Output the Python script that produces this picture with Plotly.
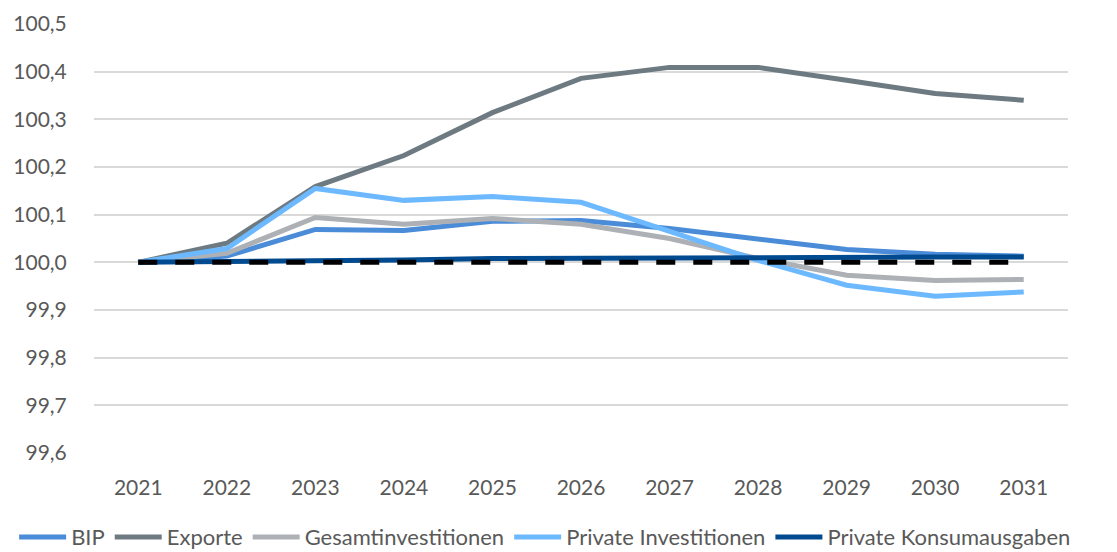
import plotly.graph_objects as go

years = ["2021", "2022", "2023", "2024", "2025", "2026", "2027", "2028", "2029", "2030", "2031"]

bip = [100.0, 100.013, 100.069, 100.067, 100.086, 100.088, 100.071, 100.050, 100.027, 100.017, 100.013]
exporte = [100.0, 100.040, 100.159, 100.224, 100.314, 100.386, 100.409, 100.409, 100.382, 100.354, 100.340]
gesamtinvestitionen = [100.0, 100.019, 100.094, 100.080, 100.092, 100.080, 100.050, 100.008, 99.973, 99.962, 99.964]
private_investitionen = [100.0, 100.029, 100.155, 100.130, 100.138, 100.126, 100.065, 100.004, 99.952, 99.929, 99.938]
private_konsum = [100.0, 100.001, 100.003, 100.005, 100.008, 100.009, 100.010, 100.011, 100.011, 100.011, 100.011]
basislinie = [100.0] * len(years)

series = [
    ("BIP", bip, "#4A8CD8"),
    ("Exporte", exporte, "#6E7A81"),
    ("Gesamtinvestitionen", gesamtinvestitionen, "#ADB1B5"),
    ("Private Investitionen", private_investitionen, "#6DB9FF"),
    ("Private Konsumausgaben", private_konsum, "#004A8F"),
]

y_ticks = [99.6, 99.7, 99.8, 99.9, 100.0, 100.1, 100.2, 100.3, 100.4, 100.5]
y_tick_text = [f"{v:.1f}".replace(".", ",") for v in y_ticks]

fig = go.Figure()
for name, values, color in series:
    fig.add_trace(go.Scatter(
        x=years, y=values, name=name, mode="lines",
        line=dict(color=color, width=5),
    ))

fig.add_trace(go.Scatter(
    x=years, y=basislinie, mode="lines", showlegend=False, hoverinfo="skip",
    line=dict(color="#000000", width=5, dash="19px,18px"),
))

fig.update_layout(
    width=1117, height=552,
    margin=dict(l=94, r=49, t=24, b=99, autoexpand=False),
    paper_bgcolor="white", plot_bgcolor="white",
    font=dict(family="Lato, sans-serif", color="#595959", size=21),
    legend=dict(
        orientation="h", x=-0.082, xanchor="left", y=-0.196, yanchor="middle",
        font=dict(size=22, color="#595959"), itemwidth=47, tracegroupgap=0,
    ),
    xaxis=dict(
        type="category", range=[-0.5, 10.5], showgrid=False, zeroline=False,
        showline=False, ticks="outside", ticklen=16, tickcolor="rgba(0,0,0,0)",
        tickfont=dict(size=21, color="#595959"),
    ),
    yaxis=dict(
        range=[99.6, 100.5], tickvals=y_ticks, ticktext=y_tick_text,
        showgrid=True, gridcolor="#D9D9D9", gridwidth=1.5, zeroline=False,
        showline=False, ticks="outside", ticklen=22, tickcolor="rgba(0,0,0,0)",
        tickfont=dict(size=21, color="#595959"),
    ),
)

fig.write_html("out.html")
